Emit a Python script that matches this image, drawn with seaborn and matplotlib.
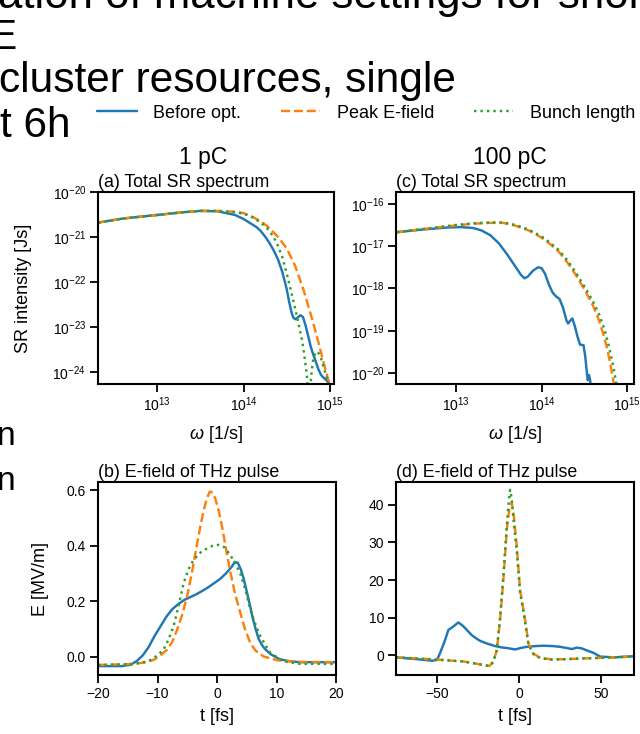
import numpy as np
import pandas as pd
import matplotlib
matplotlib.use("Agg")
import matplotlib.pyplot as plt
import matplotlib.ticker as mticker
import seaborn as sns

# ---------------- data ----------------
series_names = ["Before opt.", "Peak E-field", "Bunch length"]
series_colors = ["#1f77b4", "#ff7f0e", "#2ca02c"]
series_styles = ["-", "--", ":"]

# (a) total SR spectrum, 1 pC  (log10 omega [1/s], log10 intensity [Js])
a_blue_logw = [12.31, 12.6, 13.0, 13.3, 13.5, 13.7, 13.9, 14.0, 14.05, 14.1, 14.15, 14.2, 14.25, 14.3, 14.35,
               14.4, 14.45, 14.5, 14.53, 14.56, 14.58, 14.6, 14.63, 14.66, 14.69, 14.72, 14.75, 14.78, 14.81,
               14.84, 14.87, 14.9, 14.94, 14.97, 15.0]
a_blue_logI = [-20.68, -20.59, -20.51, -20.45, -20.42, -20.43, -20.51, -20.6, -20.66, -20.72, -20.78, -20.87,
               -20.99, -21.13, -21.3, -21.5, -21.78, -22.15, -22.45, -22.7, -22.8, -22.83, -22.79, -22.74,
               -22.78, -22.97, -23.2, -23.44, -23.62, -23.78, -23.95, -24.07, -24.15, -24.2, -24.3]
a_orange_logw = [12.31, 12.6, 13.0, 13.3, 13.5, 13.7, 13.9, 14.0, 14.1, 14.2, 14.3, 14.4, 14.5, 14.6, 14.7,
                 14.8, 14.87, 14.93, 14.98, 15.02]
a_orange_logI = [-20.68, -20.59, -20.51, -20.45, -20.42, -20.42, -20.44, -20.47, -20.55, -20.65, -20.8, -21.0,
                 -21.25, -21.65, -22.2, -22.85, -23.35, -23.8, -24.15, -24.4]
a_green_logw = [12.31, 12.6, 13.0, 13.3, 13.5, 13.7, 13.9, 14.0, 14.1, 14.2, 14.27, 14.35, 14.4, 14.45, 14.5,
                14.55, 14.6, 14.64, 14.68, 14.71, 14.73, 14.75, 14.77, 14.79, 14.81, 14.84, 14.87, 14.9, 14.93,
                14.96, 14.99, 15.02]
a_green_logI = [-20.68, -20.59, -20.51, -20.45, -20.42, -20.42, -20.45, -20.48, -20.56, -20.68, -20.8, -21.0,
                -21.2, -21.45, -21.8, -22.2, -22.6, -22.95, -23.3, -23.7, -24.0, -24.4, -24.5, -24.0, -23.7,
                -23.55, -23.58, -23.7, -23.9, -24.1, -24.25, -24.45]

# (c) total SR spectrum, 100 pC
c_blue_logw = [12.31, 12.6, 12.9, 13.05, 13.2, 13.3, 13.4, 13.5, 13.6, 13.7, 13.76, 13.80, 13.84, 13.9, 13.96,
               14.0, 14.04, 14.09, 14.13, 14.17, 14.21, 14.25, 14.29, 14.31, 14.34, 14.36, 14.39, 14.42, 14.45,
               14.49, 14.51, 14.53, 14.54, 14.555, 14.57, 14.58]
c_blue_logI = [-16.67, -16.61, -16.56, -16.55, -16.57, -16.63, -16.74, -16.93, -17.2, -17.5, -17.68, -17.76,
               -17.72, -17.58, -17.50, -17.52, -17.65, -17.93, -18.1, -18.19, -18.25, -18.45, -18.75, -18.83,
               -18.75, -18.71, -18.9, -19.14, -19.33, -19.34, -19.6, -20.0, -20.17, -20.05, -20.2, -20.5]
c_orange_logw = [12.31, 12.6, 13.0, 13.2, 13.4, 13.55, 13.7, 13.85, 14.0, 14.1, 14.2, 14.3, 14.4, 14.5, 14.6,
                 14.67, 14.72, 14.77, 14.81, 14.84, 14.86]
c_orange_logI = [-16.67, -16.60, -16.51, -16.47, -16.45, -16.45, -16.52, -16.63, -16.8, -16.95, -17.13, -17.38,
                 -17.68, -18.02, -18.4, -18.75, -19.07, -19.45, -19.86, -20.2, -20.5]
c_green_logw = [12.31, 12.6, 13.0, 13.2, 13.4, 13.55, 13.7, 13.85, 14.0, 14.1, 14.2, 14.3, 14.4, 14.5, 14.6,
                14.68, 14.74, 14.79, 14.84, 14.87, 14.89]
c_green_logI = [-16.67, -16.60, -16.50, -16.46, -16.44, -16.44, -16.50, -16.61, -16.77, -16.92, -17.09, -17.33,
                -17.62, -17.95, -18.3, -18.65, -19.0, -19.4, -19.86, -20.2, -20.5]

# (b) E-field of THz pulse, 1 pC  (t [fs], E [MV/m])
b_blue_t = [-20, -16, -14.5, -13.5, -12.5, -11.5, -10.5, -9.5, -8.5, -7.5, -6.5, -5.5, -4.5, -3.5, -2.5, -1.5,
            -0.5, 0.5, 1.5, 2.5, 3.0, 3.5, 4.0, 4.5, 5.0, 5.5, 6.0, 6.5, 7.0, 7.5, 8.0, 9.0, 10.5, 12, 14, 20]
b_blue_E = [-0.033, -0.033, -0.028, -0.015, 0.005, 0.035, 0.075, 0.11, 0.145, 0.172, 0.19, 0.205, 0.215, 0.225,
            0.237, 0.25, 0.265, 0.28, 0.30, 0.325, 0.342, 0.338, 0.315, 0.28, 0.235, 0.19, 0.14, 0.10, 0.065,
            0.045, 0.03, 0.01, -0.008, -0.015, -0.019, -0.019]
b_orange_t = [-20, -15, -12, -10.6, -9.5, -8.4, -7.5, -6.7, -5.8, -5.0, -4.2, -3.4, -2.8, -2.2, -1.7, -1.2,
              -0.7, -0.3, 0.3, 0.84, 1.5, 2.2, 3.0, 3.9, 4.7, 5.6, 6.5, 7.8, 10.1, 14, 20]
b_orange_E = [-0.029, -0.026, -0.02, -0.01, 0.005, 0.026, 0.055, 0.098, 0.155, 0.22, 0.305, 0.40, 0.47, 0.53,
              0.57, 0.595, 0.59, 0.57, 0.525, 0.47, 0.39, 0.31, 0.23, 0.16, 0.10, 0.05, 0.022, 0.002, -0.012,
              -0.018, -0.019]
b_green_t = [-20, -14, -11.5, -10.6, -9.8, -9.0, -8.2, -7.3, -6.5, -5.6, -4.8, -3.9, -2.8, -1.7, -0.7, 0.3, 1.2,
             2.2, 3.0, 3.9, 4.8, 5.6, 6.5, 7.3, 8.2, 9.0, 10.0, 11.2, 14, 20]
b_green_E = [-0.029, -0.026, -0.015, -0.004, 0.01, 0.026, 0.06, 0.11, 0.18, 0.265, 0.315, 0.35, 0.375, 0.39,
             0.40, 0.403, 0.395, 0.367, 0.34, 0.30, 0.24, 0.17, 0.115, 0.074, 0.04, 0.014, 0.0, -0.016, -0.025,
             -0.025]

# (d) E-field of THz pulse, 100 pC
d_blue_t = [-75, -62, -53, -50, -48.2, -45.5, -43.1, -40.1, -37.0, -34, -31, -28.8, -26, -23.8, -19.7, -14.6,
            -10, -7.5, -2.4, 1, 4.7, 10, 14.8, 20.7, 25, 30.1, 32, 35.2, 38, 41, 45.3, 49.4, 57.5, 70]
d_blue_E = [-0.6, -1.1, -1.5, -1.3, 0.5, 3.5, 6.7, 7.6, 8.7, 7.7, 6.3, 5.3, 4.4, 3.8, 3.1, 2.4, 2.0, 1.9, 1.5,
            1.9, 2.2, 2.4, 2.5, 2.4, 2.2, 1.8, 1.6, 2.0, 1.8, 1.3, 0.6, -0.4, -0.6, -0.3]
d_orange_t = [-75, -50, -33.8, -18.1, -15.7, -13.6, -11.6, -9.6, -7.5, -5.8, -4.45, -3.2, -1.4, 0.6, 3.7, 5.7,
              8.7, 12.8, 18.9, 27, 39, 70]
d_orange_E = [-0.6, -1.2, -1.7, -2.9, -1.8, 1.3, 9.3, 20, 33.3, 39.5, 40.6, 37, 28.9, 17.3, 9.3, 3.1, 0.4, -0.7,
              -1.1, -1.1, -0.9, -0.4]
d_green_t = [-75, -50, -33.8, -18.1, -15.7, -13.6, -11.7, -9.7, -7.6, -6.3, -5.5, -4.6, -3.2, -1.5, 0.5, 3.6,
             5.6, 8.6, 12.8, 18.9, 27, 39, 70]
d_green_E = [-0.6, -1.2, -1.7, -2.9, -1.8, 1.3, 9.5, 20.5, 34, 41, 44, 42, 35, 28, 17, 9, 3, 0.3, -0.8, -1.2,
             -1.1, -0.9, -0.4]

column_titles = ["1 pC", "100 pC"]
panel_titles = ["(a) Total SR spectrum", "(c) Total SR spectrum",
                "(b) E-field of THz pulse", "(d) E-field of THz pulse"]
slide_lines = ["ation of machine settings for short", "E", "cluster resources, single", "t 6h"]

# ---------------- style ----------------
sns.set_theme(style="ticks")
FONT = ["Liberation Sans", "DejaVu Sans"]
plt.rcParams["font.family"] = FONT
plt.rcParams["mathtext.fontset"] = "custom"
plt.rcParams["mathtext.rm"] = "Liberation Sans"
plt.rcParams["mathtext.it"] = "Liberation Sans:italic"
plt.rcParams["text.color"] = "black"
plt.rcParams["axes.labelcolor"] = "black"
plt.rcParams["axes.edgecolor"] = "black"
plt.rcParams["axes.linewidth"] = 1.5
plt.rcParams["xtick.color"] = "black"
plt.rcParams["ytick.color"] = "black"
plt.rcParams["xtick.major.width"] = 1.3
plt.rcParams["ytick.major.width"] = 1.3
plt.rcParams["xtick.major.size"] = 5.5
plt.rcParams["ytick.major.size"] = 5.5
plt.rcParams["xtick.labelsize"] = 10
plt.rcParams["ytick.labelsize"] = 10
plt.rcParams["axes.labelsize"] = 13
plt.rcParams["axes.titlesize"] = 12.8

W, H = 640, 734
fig = plt.figure(figsize=(W / 100, H / 100), dpi=100)


def px_axes(l, t, r, b):
    return fig.add_axes([l / W, 1 - b / H, (r - l) / W, (b - t) / H])


ax_a = px_axes(98, 192, 334, 384)
ax_c = px_axes(396, 192, 634, 384)
ax_b = px_axes(98, 482, 336, 675)
ax_d = px_axes(396, 482, 634, 675)

LW = 1.75


def draw(ax, xs, ys, logscale):
    for x, y, name, col, ls in zip(xs, ys, series_names, series_colors, series_styles):
        x = np.asarray(x, float)
        y = np.asarray(y, float)
        if logscale:
            x = 10.0 ** x
            y = 10.0 ** y
        df = pd.DataFrame({"x": x, "y": y})
        sns.lineplot(data=df, x="x", y="y", ax=ax, color=col, linestyle=ls, lw=LW,
                     label=name, sort=False, estimator=None)
    if ax.get_legend() is not None:
        ax.get_legend().remove()


for ax in (ax_a, ax_c):
    ax.set_xscale("log")
    ax.set_yscale("log")

draw(ax_a, [a_blue_logw, a_orange_logw, a_green_logw], [a_blue_logI, a_orange_logI, a_green_logI], True)
draw(ax_c, [c_blue_logw, c_orange_logw, c_green_logw], [c_blue_logI, c_orange_logI, c_green_logI], True)
draw(ax_b, [b_blue_t, b_orange_t, b_green_t], [b_blue_E, b_orange_E, b_green_E], False)
draw(ax_d, [d_blue_t, d_orange_t, d_green_t], [d_blue_E, d_orange_E, d_green_E], False)

# limits & ticks
ax_a.set_xlim(10 ** 12.31, 10 ** 15.05)
ax_a.set_ylim(10 ** -24.27, 10 ** -20.0)
ax_c.set_xlim(10 ** 12.30, 10 ** 15.08)
ax_c.set_ylim(10 ** -20.26, 10 ** -15.72)
for ax in (ax_a, ax_c):
    ax.xaxis.set_major_locator(mticker.LogLocator(base=10, numticks=20))
    ax.yaxis.set_major_locator(mticker.LogLocator(base=10, numticks=20))
    ax.xaxis.set_minor_locator(mticker.NullLocator())
    ax.yaxis.set_minor_locator(mticker.NullLocator())

ax_b.set_xlim(-20, 20)
ax_b.set_ylim(-0.065, 0.629)
ax_b.set_xticks([-20, -10, 0, 10, 20])
ax_b.set_yticks([0.0, 0.2, 0.4, 0.6])
ax_d.set_xlim(-75, 70)
ax_d.set_ylim(-5.3, 46.1)
ax_d.set_xticks([-50, 0, 50])
ax_d.set_yticks([0, 10, 20, 30, 40])

for ax, title in zip((ax_a, ax_c, ax_b, ax_d), panel_titles):
    ax.set_title(title, loc="left", pad=3.5)
    ax.set_xlabel("")
    ax.set_ylabel("")
    for s in ax.spines.values():
        s.set_visible(True)
    ax.tick_params(axis="both", which="major", direction="out", pad=3)

ax_a.set_ylabel("SR intensity [Js]")
ax_b.set_ylabel("E [MV/m]")
ax_a.yaxis.set_label_coords((32 - 98) / 236, 0.5)
ax_b.yaxis.set_label_coords((49 - 98) / 238, 0.5)
for ax in (ax_a, ax_c):
    ax.set_xlabel(r"$\omega$ [1/s]")
    ax.xaxis.set_label_coords(0.5, (384 - 424) / 192)
for ax in (ax_b, ax_d):
    ax.set_xlabel("t [fs]")
    ax.xaxis.set_label_coords(0.5, (675 - 708) / 193)

# column titles
fig.text(203 / W, 1 - 164 / H, column_titles[0], ha="center", va="baseline", fontsize=16.5)
fig.text(510 / W, 1 - 164 / H, column_titles[1], ha="center", va="baseline", fontsize=16.5)

# figure legend
handles, labels = ax_a.get_legend_handles_labels()
fig.legend(handles, labels, loc="center", bbox_to_anchor=(366 / W, 1 - 113 / H), ncol=3, frameon=False,
           fontsize=13, handlelength=2.2, handletextpad=0.9, columnspacing=2.2, borderaxespad=0)

# background slide text (partly hidden by the figure / cropped)
fig.text(-2 / W, 1 - 8 / H, slide_lines[0], fontsize=31.5, va="baseline", ha="left")
fig.text(17 / W, 1 - 49 / H, slide_lines[1], fontsize=30.5, va="baseline", ha="right")
fig.text(-1 / W, 1 - 92 / H, slide_lines[2], fontsize=30.5, va="baseline", ha="left")
fig.text(0 / W, 1 - 137 / H, slide_lines[3], fontsize=30.5, va="baseline", ha="left")
fig.text(15 / W, 1 - 445 / H, "n", fontsize=24, va="baseline", ha="right")
fig.text(15 / W, 1 - 490 / H, "n", fontsize=24, va="baseline", ha="right")

fig.savefig("out.png", dpi=100)
